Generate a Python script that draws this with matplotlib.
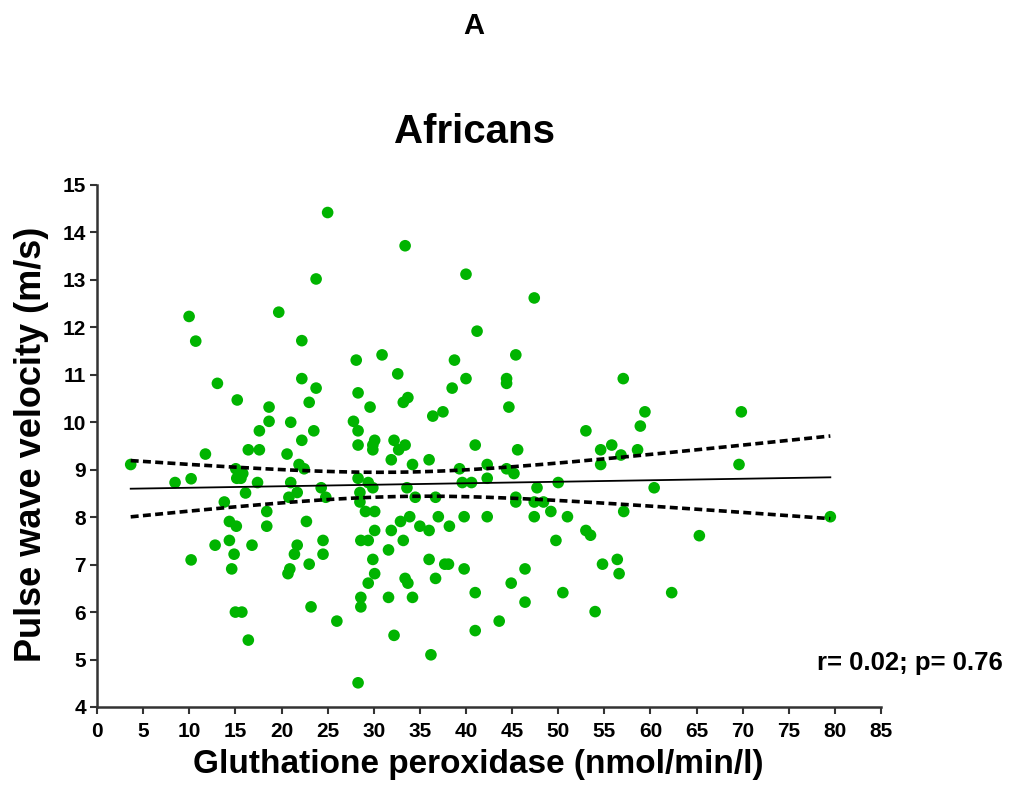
import numpy as np
import matplotlib.pyplot as plt

plt.rcParams['font.family'] = ['Liberation Sans', 'DejaVu Sans']

# glutathione peroxidase (nmol/min/l) and pulse wave velocity (m/s)
gpx = [3.65, 8.46, 10.2, 11.75, 10.2, 15.2, 18.65, 18.65, 17.6, 16.4, 17.6, 21.0, 20.6,
       15.04, 15.8, 15.15, 15.6, 17.4, 21.0, 16.1, 20.8, 13.8, 18.4, 14.35, 15.1, 18.4,
       12.8, 14.35, 16.8, 14.86, 14.6, 20.9, 20.7, 15.0, 15.7, 16.4, 9.98, 10.7, 13.05,
       19.7, 25.0, 33.4, 23.75, 40.0, 41.2, 22.2, 28.1, 30.9, 38.75, 32.6, 22.2, 23.75,
       40.0, 28.3, 38.5, 23.0, 33.7, 33.2, 29.6, 36.4, 37.5, 27.8, 23.5, 28.3, 22.2,
       28.3, 30.1, 29.9, 29.9, 32.2, 33.4, 32.7, 41.0, 31.9, 36.0, 21.9, 22.45, 34.2,
       39.3, 28.3, 29.4, 29.9, 24.3, 39.6, 40.6, 33.6, 21.7, 24.8, 28.5, 28.5, 34.5,
       36.7, 29.1, 30.1, 22.7, 33.9, 37.0, 39.8, 32.9, 35.0, 38.2, 30.1, 31.9, 36.0,
       28.6, 29.4, 24.5, 21.7, 33.2, 31.6, 21.4, 24.5, 29.9, 36.0, 23.0, 37.7, 38.1,
       39.8, 30.1, 33.4, 33.7, 36.7, 29.4, 41.0, 28.6, 28.6, 31.6, 34.2, 23.2, 26.0,
       41.0, 32.2, 36.2, 28.3, 47.4, 45.4, 44.4, 44.4, 57.05, 44.65, 59.4, 58.9, 53.0,
       45.6, 54.6, 55.8, 56.8, 58.6, 54.6, 42.3, 44.4, 45.2, 42.3, 50.0, 47.7, 60.4,
       45.4, 45.4, 47.4, 48.4, 49.2, 42.3, 47.4, 51.0, 57.1, 53.0, 53.5, 49.75, 54.8,
       56.4, 56.6, 46.4, 44.9, 50.5, 46.4, 54.0, 43.6, 62.3, 69.85, 69.6, 79.5, 65.3]
pwv = [9.11, 8.73, 8.81, 9.33, 7.10, 10.47, 10.32, 10.02, 9.82, 9.42, 9.42, 10.0, 9.33,
       9.02, 8.92, 8.82, 8.82, 8.73, 8.73, 8.51, 8.42, 8.32, 8.12, 7.91, 7.81, 7.81,
       7.41, 7.51, 7.41, 7.22, 6.91, 6.91, 6.81, 6.0, 6.0, 5.41, 12.23, 11.71, 10.82,
       12.32, 14.42, 13.72, 13.02, 13.12, 11.92, 11.72, 11.31, 11.42, 11.31, 11.02, 10.92, 10.72,
       10.92, 10.62, 10.72, 10.42, 10.52, 10.42, 10.32, 10.13, 10.22, 10.02, 9.82, 9.82, 9.62,
       9.52, 9.62, 9.52, 9.42, 9.62, 9.52, 9.42, 9.52, 9.21, 9.21, 9.11, 9.02, 9.11,
       9.02, 8.82, 8.73, 8.62, 8.62, 8.73, 8.73, 8.62, 8.52, 8.42, 8.52, 8.32, 8.42,
       8.42, 8.12, 8.12, 7.91, 8.01, 8.01, 8.01, 7.91, 7.81, 7.81, 7.72, 7.72, 7.72,
       7.51, 7.51, 7.51, 7.41, 7.51, 7.31, 7.22, 7.22, 7.11, 7.11, 7.01, 7.01, 7.01,
       6.91, 6.81, 6.71, 6.61, 6.71, 6.61, 6.41, 6.31, 6.11, 6.31, 6.31, 6.11, 5.81,
       5.61, 5.51, 5.10, 4.51, 12.62, 11.42, 10.92, 10.82, 10.92, 10.32, 10.22, 9.92, 9.82,
       9.42, 9.42, 9.52, 9.31, 9.42, 9.11, 9.11, 9.02, 8.92, 8.82, 8.73, 8.62, 8.62,
       8.42, 8.32, 8.32, 8.32, 8.12, 8.01, 8.01, 8.01, 8.12, 7.72, 7.62, 7.51, 7.01,
       7.11, 6.81, 6.91, 6.61, 6.41, 6.21, 6.01, 5.81, 6.41, 10.22, 9.11, 8.01, 7.61]

# regression line as printed in the figure (value at the left and right end of the data)
fit_left = 8.60
fit_right = 8.84

x = np.array(gpx)
y = np.array(pwv)
n = len(x)

slope = (fit_right - fit_left) / (x.max() - x.min())
icpt = fit_left - slope * x.min()
xs = np.linspace(x.min(), x.max(), 200)
ys = icpt + slope * xs

# 95% confidence band of the mean
resid = y - (icpt + slope * x)
s = np.sqrt(np.sum(resid**2) / (n - 2))
sxx = np.sum((x - x.mean())**2)
se = s * np.sqrt(1/n + (xs - x.mean())**2 / sxx)
tval = 1.97

fig = plt.figure(figsize=(10.14, 8), dpi=100)
ax = fig.add_axes([0.0957, 0.11625, 0.7732, 0.6525])

ax.scatter(x, y, s=70, color='#00b400', edgecolors='none', zorder=3)
ax.plot(xs, ys, color='black', lw=1.3, zorder=4)
ax.plot(xs, ys + tval*se, color='black', lw=2.6, ls=(0, (2.2, 1.2)), zorder=4)
ax.plot(xs, ys - tval*se, color='black', lw=2.6, ls=(0, (2.2, 1.2)), zorder=4)

ax.set_xlim(0, 85)
ax.set_ylim(4, 15)
ax.set_xticks(np.arange(0, 90, 5))
ax.set_yticks(np.arange(4, 16, 1))
for side in ['top', 'right']:
    ax.spines[side].set_visible(False)
for side in ['left', 'bottom']:
    ax.spines[side].set_linewidth(1.8)
    ax.spines[side].set_color('#333333')
ax.tick_params(direction='out', length=5, width=1.5, labelsize=15, color='#333333', pad=3)
ax.tick_params(axis='x', pad=6)
for lab in ax.get_xticklabels() + ax.get_yticklabels():
    lab.set_fontweight('bold')

ax.set_xlabel('Gluthatione peroxidase (nmol/min/l)', fontsize=24, fontweight='bold')
ax.set_ylabel('Pulse wave velocity (m/s)', fontsize=26, fontweight='bold')
ax.xaxis.set_label_coords(0.486, -0.08)
ax.yaxis.set_label_coords(-0.061, 0.504)

fig.text(0.4675, 0.835, 'Africans', fontsize=29, fontweight='bold', ha='center', va='center')
fig.text(0.4675, 0.968, 'A', fontsize=21, fontweight='bold', ha='center', va='center')
fig.text(0.806, 0.171, 'r= 0.02; p= 0.76', fontsize=18.5, fontweight='bold', ha='left', va='center')

fig.savefig('out.png', dpi=100)
